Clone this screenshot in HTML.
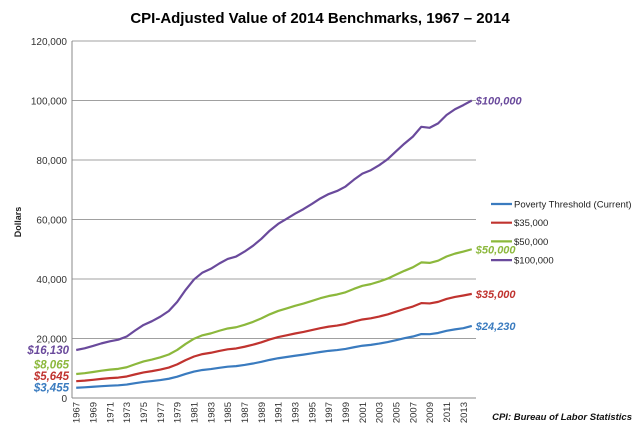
<!DOCTYPE html>
<html><head><meta charset="utf-8"><style>
body{margin:0;background:#fff}
svg{display:block;font-family:"Liberation Sans",Arial,sans-serif}
</style></head><body>
<svg id="c" width="640" height="432">
<text x="320" y="23" text-anchor="middle" font-size="15" font-weight="bold" fill="#000">CPI-Adjusted Value of 2014 Benchmarks, 1967 – 2014</text>
<text transform="translate(21,222) rotate(-90)" text-anchor="middle" font-size="9" font-weight="bold" fill="#222">Dollars</text>
<text x="632" y="420" text-anchor="end" font-size="9.5" font-weight="bold" font-style="italic" fill="#111">CPI: Bureau of Labor Statistics</text>
<g id="grid"></g><g id="axes"></g><g id="series"></g><g id="labels"></g>
<g id="legend"></g>
</svg>
<script>
const years=[];for(let y=1967;y<=2014;y++)years.push(y);
const yTicks=[0,20000,40000,60000,80000,100000,120000];
const poverty=[3455,3590,3770,3970,4140,4270,4520,4970,5390,5690,6040,6470,7160,8080,8880,9420,9730,10150,10520,10720,11120,11590,12160,12820,13370,13780,14200,14580,15010,15470,15850,16110,16490,17060,17570,17860,18290,18790,19450,20090,20670,21480,21450,21850,22570,23070,23460,24230];
const s35k=[5645,5845,6120,6425,6670,6860,7235,7940,8590,9035,9570,10240,11305,12720,13950,14755,15205,15825,16360,16645,17225,17905,18725,19695,20490,21080,21685,22220,22825,23475,23995,24355,24880,25685,26395,26795,27390,28095,29020,29930,30750,31905,31790,32310,33290,33970,34460,35000];
const s50k=[8065,8350,8745,9180,9530,9800,10335,11345,12275,12910,13675,14625,16150,18170,19925,21080,21720,22605,23370,23780,24605,25575,26750,28135,29270,30115,30980,31745,32610,33535,34280,34795,35540,36695,37705,38280,39125,40135,41455,42755,43930,45580,45415,46160,47560,48530,49230,50000];
const s100k=[16130,16700,17490,18360,19060,19600,20670,22690,24550,25820,27350,29250,32300,36340,39850,42160,43440,45210,46740,47560,49210,51150,53500,56270,58540,60230,61960,63490,65220,67070,68560,69590,71080,73390,75410,76560,78250,80270,82910,85510,87860,91160,90830,92320,95120,97060,98460,100000];
const names=["Poverty Threshold (Current)","$35,000","$50,000","$100,000"];
const colors=["#3a7bbf","#c0332f","#8cb83c","#6a4a9c"];
const all=[poverty,s35k,s50k,s100k];
const NS="http://www.w3.org/2000/svg";
const X0=72,X1=476,Y0=398,Y1=41;
const bw=(X1-X0)/years.length;
const xs=i=>X0+bw*(i+0.5);
const ys=v=>Y0-(v/120000)*(Y0-Y1);
function mk(tag,at,par){const e=document.createElementNS(NS,tag);for(const k in at)e.setAttribute(k,at[k]);document.getElementById(par).appendChild(e);return e;}
yTicks.forEach(t=>{
 if(t>0){const l=mk("line",{x1:X0,x2:X1,y1:ys(t),y2:ys(t),stroke:"#a0a0a0","stroke-width":1},"grid");
 
 }
 const tx=mk("text",{x:X0-5,y:ys(t)+4,"text-anchor":"end","font-size":"10",fill:"#333"},"axes");tx.textContent=t.toLocaleString("en-US");
 
 
});
const xa=mk("line",{x1:X0,x2:X1,y1:Y0,y2:Y0,stroke:"#888"},"axes");


const ya=mk("line",{x1:X0,x2:X0,y1:Y1,y2:Y0,stroke:"#888"},"axes");


years.forEach((y,i)=>{
 if(i%2)return;
 const t=mk("text",{transform:`translate(${xs(i)+3.5},${Y0+4}) rotate(-90)`,"text-anchor":"end","font-size":"9.5",fill:"#333"},"axes");t.textContent=y;
 
 
});
let prevY=1e9;
all.forEach((s,k)=>{
 const p=mk("polyline",{points:s.map((v,i)=>xs(i)+","+ys(v)).join(" "),fill:"none",stroke:colors[k],"stroke-width":2.2,"stroke-linejoin":"round"},"series");
 
 
 const n=s.length-1;
 const e=mk("text",{x:xs(n)+4,y:ys(s[n])+4,"font-size":"11","font-weight":"bold","font-style":"italic",fill:colors[k]},"labels");
 e.textContent="$"+s[n].toLocaleString("en-US");
 
 
 let cy=Math.min(ys(s[0]),prevY-11.5);prevY=cy;
 const b=mk("text",{x:X0-3,y:cy+4,"text-anchor":"end","font-size":"11.5","font-weight":"bold","font-style":"italic",fill:colors[k]},"labels");
 b.textContent="$"+s[0].toLocaleString("en-US");
 
 
 const ly=204+k*18.7;
 const ll=mk("line",{x1:491,x2:512,y1:ly,y2:ly,stroke:colors[k],"stroke-width":2.2},"legend");
 
 
 const lt=mk("text",{x:514,y:ly+3.5,"font-size":"9.5",fill:"#222"},"legend");lt.textContent=names[k];
 
 
});
</script>
</body></html>
